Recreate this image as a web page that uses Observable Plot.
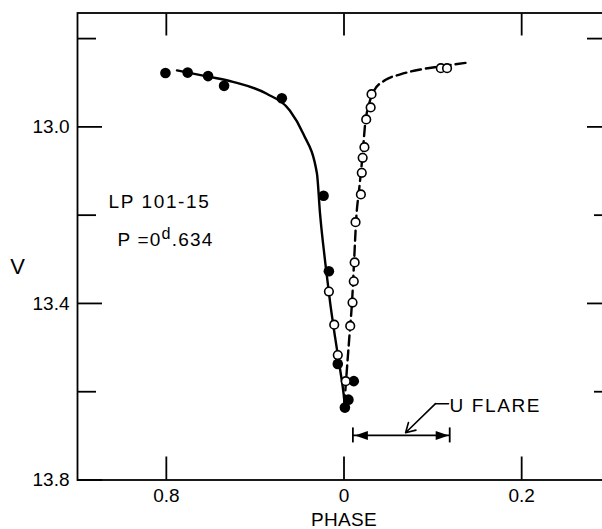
<!DOCTYPE html>
<html><head><meta charset="utf-8">
<script src="https://cdn.jsdelivr.net/npm/d3@7"></script>
<script src="https://cdn.jsdelivr.net/npm/@observablehq/plot@0.6"></script>
<style>
html,body{margin:0;padding:0;background:#fff;overflow:hidden;}
#wrap{width:602px;height:529px;overflow:hidden;}
#wrap svg{max-width:none !important;width:610px !important;height:529px !important;}
</style></head><body><div id="wrap"></div>
<script>
// Filled circles (phase, V)
const filledPhase = [0.799, 0.824, 0.847, 0.865, 0.930, 0.977, 0.983, 0.993, 0.011, 0.005, 0.001];
const filledV     = [12.878, 12.877, 12.885, 12.907, 12.935, 13.156, 13.327, 13.537, 13.576, 13.618, 13.636];
// Open circles (phase, V)
const openPhase = [0.031, 0.030, 0.025, 0.023, 0.021, 0.020, 0.019, 0.013, 0.012, 0.011, 0.0096, 0.007, 0.002, 0.983, 0.989, 0.993, 0.109, 0.116];
const openV     = [12.926, 12.956, 12.983, 13.046, 13.070, 13.104, 13.153, 13.216, 13.307, 13.350, 13.398, 13.451, 13.576, 13.373, 13.448, 13.517, 12.867, 12.867];
// Solid curve (descending branch)
const solidPhase = [0.812, 0.847, 0.875, 0.913, 0.939, 0.954, 0.9695, 0.973, 0.979, 0.9845, 0.990, 0.9958, 0.9995, 0.0014];
const solidV     = [12.872, 12.886, 12.898, 12.925, 12.963, 13.015, 13.105, 13.196, 13.309, 13.400, 13.477, 13.552, 13.604, 13.643];
// Dashed curve (rising branch)
const dashPhase = [0.0003, 0.0025, 0.0059, 0.0093, 0.0115, 0.0138, 0.0172, 0.0206, 0.0239, 0.0285, 0.0341, 0.0465, 0.0634, 0.0859, 0.1085, 0.140];
const dashV     = [13.631, 13.570, 13.479, 13.388, 13.298, 13.207, 13.139, 13.071, 12.992, 12.946, 12.917, 12.894, 12.881, 12.870, 12.863, 12.854];
// Ticks
const xTickPhases = [0.8, 0, 0.2];
const yMajorTicks = [13.0, 13.4, 13.8];
const yMinorTicks = [12.8, 13.2, 13.6];
const yRightMajor = [12.8, 13.0, 13.4];
const yRightMinor = [13.2, 13.6];
// Annotations
const starName = "LP 101-15";
const periodText = "P =0d.634";
const flarePhase = [0.010, 0.119];
const flareV = 13.699;
const flareLabel = "U FLARE";
const phaseDomain = [-0.3, 0.3];
const vDomain = [12.742, 13.8];

const toX = p => p > 0.5 ? p - 1 : p;
const zip = (P, V) => P.map((p, i) => ({x: toX(p), y: V[i]}));
const filled = zip(filledPhase, filledV);
const open = zip(openPhase, openV);
const solid = zip(solidPhase, solidV);
const dashed = zip(dashPhase, dashV);
const xTicks = xTickPhases.map(toX);
const fmtX = d => d === 0 ? "0" : (d < 0 ? d + 1 : d).toFixed(1);

const arrowRight = {draw(ctx){ ctx.moveTo(0,0); ctx.lineTo(-13,-4.5); ctx.lineTo(-13,4.5); ctx.closePath(); }};
const arrowLeft  = {draw(ctx){ ctx.moveTo(0,0); ctx.lineTo(13,-4.5); ctx.lineTo(13,4.5); ctx.closePath(); }};

const chart = Plot.plot({
  width: 610, height: 529,
  marginLeft: 77, marginRight: 0, marginTop: 12.5, marginBottom: 49.5,
  style: {fontFamily: "'Liberation Sans', Arial, sans-serif", fontSize: "19px", background: "white", color: "black", maxWidth: "none"},
  x: {domain: phaseDomain},
  y: {domain: vDomain, reverse: true},
  marks: [
    Plot.frame({stroke: "black", strokeWidth: 1.8}),
    // bottom axis
    Plot.axisX(xTicks, {anchor: "bottom", tickSize: 0, tickPadding: 8, tickFormat: fmtX, label: null}),
    Plot.axisX(xTicks, {anchor: "bottom", tickSize: -23, tickFormat: () => "", label: null, strokeWidth: 1.8}),
    Plot.axisX(xTicks, {anchor: "top", tickSize: -22, tickFormat: () => "", label: null, strokeWidth: 1.8}),
    // left axis
    Plot.axisY(yMajorTicks, {anchor: "left", tickSize: 0, tickPadding: 8, tickFormat: d3.format(".1f"), label: null}),
    Plot.axisY(yMajorTicks, {anchor: "left", tickSize: -25, tickFormat: () => "", label: null, strokeWidth: 1.8}),
    Plot.axisY(yMinorTicks, {anchor: "left", tickSize: -19, tickFormat: () => "", label: null, strokeWidth: 1.8}),
    // right axis
    Plot.axisY(yRightMajor, {anchor: "right", tickSize: -24, tickFormat: () => "", label: null, strokeWidth: 1.8}),
    Plot.axisY(yRightMinor, {anchor: "right", tickSize: -17, tickFormat: () => "", label: null, strokeWidth: 1.8}),
    // axis titles
    Plot.text(["V"], {frameAnchor: "left", textAnchor: "middle", lineAnchor: "middle", dx: -60, dy: 20, fontSize: 22}),
    Plot.text(["PHASE"], {frameAnchor: "bottom", textAnchor: "middle", lineAnchor: "middle", dy: 40, fontSize: 19}),
    // curves
    Plot.line(solid, {x: "x", y: "y", stroke: "black", strokeWidth: 2.4, curve: "monotone-x"}),
    Plot.line(dashed, {x: "x", y: "y", stroke: "black", strokeWidth: 2.4, strokeDasharray: "10,5", curve: "monotone-x"}),
    // points
    Plot.dot(filled, {x: "x", y: "y", r: 5.3, fill: "black", stroke: "none"}),
    Plot.dot(open, {x: "x", y: "y", r: 4.3, fill: "white", stroke: "black", strokeWidth: 1.6}),
    // labels
    Plot.text([starName], {x: -0.265, y: 13.171, textAnchor: "start", fontSize: 19}),
    Plot.text([periodText], {x: -0.255, y: 13.257, textAnchor: "start", fontSize: 19}),
    // U flare range
    Plot.ruleY([flareV], {x1: toX(flarePhase[0]), x2: toX(flarePhase[1]), stroke: "black", strokeWidth: 1.6}),
    Plot.ruleX(flarePhase, {x: d => toX(d), y1: flareV, y2: flareV, insetTop: -7.5, insetBottom: -7.5, stroke: "black", strokeWidth: 1.8}),
    Plot.dot([flarePhase[1]], {x: d => toX(d), y: flareV, symbol: arrowRight, fill: "black", stroke: "none", dx: -1}),
    Plot.dot([flarePhase[0]], {x: d => toX(d), y: flareV, symbol: arrowLeft, fill: "black", stroke: "none", dx: 2}),
    Plot.line([{x: 0.1177, y: 13.627}, {x: 0.1030, y: 13.627}], {x: "x", y: "y", stroke: "black", strokeWidth: 1.5}),
    Plot.arrow([{x1: 0.1030, y1: 13.627, x2: 0.0693, y2: 13.693}], {x1: "x1", y1: "y1", x2: "x2", y2: "y2", stroke: "black", strokeWidth: 1.6, headLength: 10}),
    Plot.text([flareLabel], {x: 0.1177, y: 13.633, textAnchor: "start", dx: 1, fontSize: 19})
  ]
});

const ns = "http://www.w3.org/2000/svg";
chart.querySelectorAll("text").forEach(t => {
  const c = t.textContent;
  if (c === periodText) {
    // superscript "d"
    t.textContent = "";
    t.appendChild(document.createTextNode("P =0"));
    const s = document.createElementNS(ns, "tspan");
    s.setAttribute("dy", "-0.45em"); s.setAttribute("font-size", "0.85em");
    s.textContent = "d";
    const r = document.createElementNS(ns, "tspan");
    r.setAttribute("dy", "0.38em");
    r.textContent = ".634";
    t.appendChild(s); t.appendChild(r);
    t.setAttribute("letter-spacing", "1.2px");
  } else if (c === starName) {
    t.setAttribute("letter-spacing", "1.6px");
  } else if (c === flareLabel) {
    t.setAttribute("letter-spacing", "1.6px");
  } else if (c === "PHASE") {
    t.setAttribute("letter-spacing", "0.3px");
  }
});
document.getElementById("wrap").appendChild(chart);
</script></body></html>
